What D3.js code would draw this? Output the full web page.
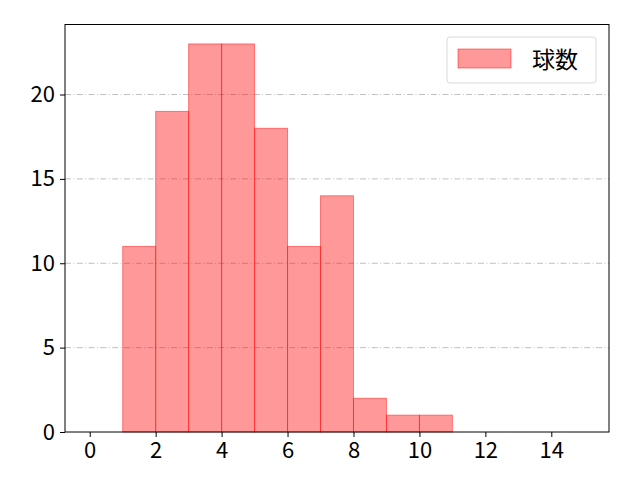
<!DOCTYPE html>
<html>
<head>
<meta charset="utf-8">
<script src="https://cdn.jsdelivr.net/npm/d3@7"></script>
<style>
  body { margin: 0; background: #fff; }
  text { font-family: "Noto Sans CJK JP", "DejaVu Sans", sans-serif; fill: #000; }
</style>
</head>
<body>
<div id="chart"></div>
<script>
// histogram bins (left edge) and counts
const binStarts = [1, 2, 3, 4, 5, 6, 7, 8, 9, 10];
const counts = [11, 19, 23, 23, 18, 11, 14, 2, 1, 1];
const xTicks = [0, 2, 4, 6, 8, 10, 12, 14];
const yTicks = [0, 5, 10, 15, 20];
const seriesName = "球数";

const W = 640, H = 480;
const margin = { top: 24.5, right: 31, bottom: 48, left: 65 };

const svg = d3.select("#chart").append("svg")
  .attr("width", W).attr("height", H);

const x = d3.scaleLinear().domain([-0.75, 15.75]).range([margin.left, W - margin.right]);
const y = d3.scaleLinear().domain([0, 24.15]).range([H - margin.bottom, margin.top]);

// grid lines
svg.append("g")
  .selectAll("line")
  .data(yTicks.filter(d => d > 0))
  .enter().append("line")
  .attr("x1", x.range()[0]).attr("x2", x.range()[1])
  .attr("y1", d => y(d)).attr("y2", d => y(d))
  .attr("stroke", "#b0b0b0")
  .attr("stroke-width", 0.8)
  .attr("stroke-dasharray", "6,2.4,1,2.4");

// bars
svg.append("g")
  .selectAll("rect")
  .data(binStarts)
  .enter().append("rect")
  .attr("x", d => x(d))
  .attr("width", d => x(d + 1) - x(d))
  .attr("y", (d, i) => y(counts[i]))
  .attr("height", (d, i) => y(0) - y(counts[i]))
  .attr("fill", "rgba(255,0,0,0.4)")
  .attr("stroke", "rgba(255,0,0,0.45)")
  .attr("stroke-width", 1);

// axes
const xAxis = svg.append("g")
  .attr("transform", "translate(0," + y(0) + ")")
  .call(d3.axisBottom(x).tickValues(xTicks).tickSize(5).tickPadding(4).tickSizeOuter(0));
const yAxis = svg.append("g")
  .attr("transform", "translate(" + x.range()[0] + ",0)")
  .call(d3.axisLeft(y).tickValues(yTicks).tickSize(5).tickPadding(5).tickSizeOuter(0));
[xAxis, yAxis].forEach(a => {
  a.select(".domain").remove();
  a.selectAll("text").style("font-size", "22px").attr("font-family", null);
  a.selectAll("line").attr("stroke", "#000").attr("stroke-width", 1);
});
xAxis.selectAll("text").attr("dy", "0.78em");

// frame
svg.append("rect")
  .attr("x", x.range()[0]).attr("y", y.range()[1])
  .attr("width", x.range()[1] - x.range()[0])
  .attr("height", y.range()[0] - y.range()[1])
  .attr("fill", "none").attr("stroke", "#000").attr("stroke-width", 1);

// legend
const lg = svg.append("g").attr("transform", "translate(447,37)");
lg.append("rect")
  .attr("width", 149).attr("height", 46).attr("rx", 3)
  .attr("fill", "rgba(255,255,255,0.8)")
  .attr("stroke", "#d9d9d9").attr("stroke-width", 1);
lg.append("rect")
  .attr("x", 11).attr("y", 12).attr("width", 53).attr("height", 19)
  .attr("fill", "rgba(255,0,0,0.4)")
  .attr("stroke", "rgba(255,0,0,0.45)");
lg.append("text")
  .attr("x", 85).attr("y", 31)
  .style("font-size", "23px")
  .text(seriesName);
</script>
</body>
</html>
